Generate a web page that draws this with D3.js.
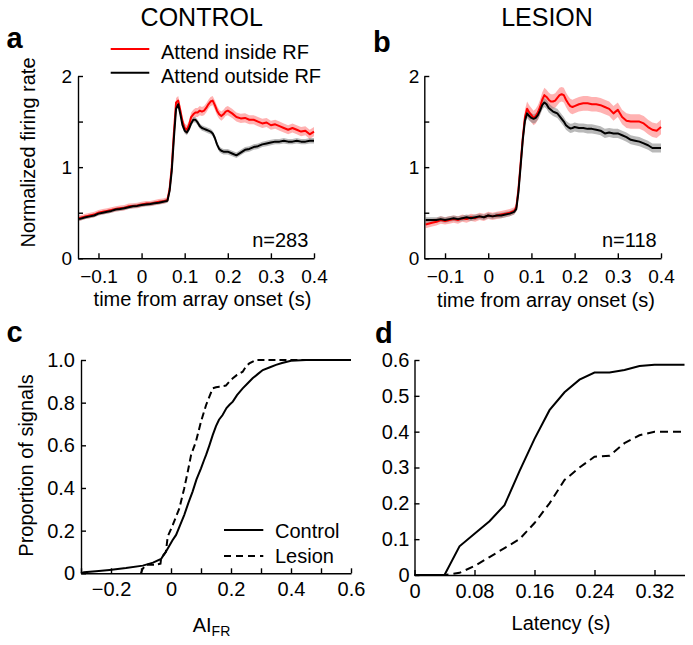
<!DOCTYPE html>
<html><head><meta charset="utf-8">
<script src="https://cdn.jsdelivr.net/npm/d3@7"></script>
<style>body{margin:0;background:#fff}svg{display:block;font-family:"Liberation Sans",Arial,Helvetica,sans-serif}</style>
</head><body><svg id="c" width="693" height="645"></svg>
<script>
// ---------- DATA ----------
const timeBins = [-0.145,-0.13,-0.12,-0.11,-0.10,-0.09,-0.08,-0.07,-0.06,-0.05,-0.04,-0.03,-0.02,-0.01,0,0.01,0.02,0.03,0.04,0.05,0.06,
 0.065,0.07,0.075,0.08,0.085,0.09,0.095,0.10,0.105,0.11,0.115,0.12,0.125,0.13,0.135,0.14,0.145,0.15,0.155,0.16,0.165,0.17,0.175,0.18,0.185,0.19,0.195,
 0.20,0.21,0.22,0.23,0.24,0.25,0.26,0.27,0.28,0.29,0.30,0.31,0.32,0.33,0.34,0.35,0.36,0.37,0.38,0.39,0.40];

const insideA = [0.44,0.46,0.47,0.48,0.50,0.51,0.52,0.53,0.54,0.55,0.555,0.57,0.575,0.58,0.59,0.60,0.60,0.61,0.62,0.625,0.64,
 0.76,1.00,1.38,1.71,1.73,1.62,1.50,1.43,1.41,1.46,1.55,1.58,1.60,1.60,1.62,1.61,1.62,1.65,1.69,1.72,1.73,1.68,1.62,1.58,1.56,1.58,1.61,
 1.62,1.59,1.55,1.535,1.54,1.52,1.52,1.50,1.48,1.49,1.46,1.47,1.45,1.43,1.41,1.43,1.41,1.39,1.40,1.36,1.39];
const outsideA = [0.43,0.45,0.46,0.47,0.49,0.50,0.51,0.52,0.535,0.54,0.55,0.56,0.57,0.575,0.585,0.59,0.595,0.605,0.61,0.62,0.63,
 0.74,0.96,1.32,1.64,1.69,1.58,1.46,1.40,1.38,1.42,1.48,1.52,1.52,1.49,1.45,1.43,1.42,1.41,1.40,1.39,1.37,1.32,1.25,1.20,1.18,1.17,1.17,
 1.17,1.15,1.13,1.16,1.19,1.20,1.22,1.23,1.25,1.26,1.27,1.28,1.28,1.29,1.28,1.28,1.29,1.28,1.28,1.29,1.29];
const insideB = [0.37,0.39,0.40,0.42,0.41,0.42,0.43,0.42,0.44,0.43,0.45,0.44,0.46,0.45,0.47,0.46,0.47,0.48,0.49,0.50,0.52,
 0.56,0.76,1.04,1.32,1.55,1.64,1.60,1.57,1.54,1.56,1.60,1.66,1.74,1.79,1.77,1.74,1.72,1.72,1.73,1.76,1.79,1.80,1.79,1.74,1.70,1.67,1.66,
 1.67,1.69,1.70,1.70,1.69,1.69,1.68,1.66,1.64,1.59,1.63,1.55,1.51,1.50,1.50,1.50,1.48,1.44,1.41,1.40,1.44];
const outsideB = [0.42,0.42,0.42,0.43,0.42,0.43,0.44,0.43,0.44,0.45,0.44,0.45,0.46,0.45,0.47,0.46,0.47,0.47,0.48,0.49,0.51,
 0.54,0.73,1.01,1.30,1.51,1.59,1.56,1.54,1.53,1.54,1.57,1.62,1.68,1.71,1.69,1.65,1.63,1.61,1.60,1.59,1.56,1.53,1.50,1.46,1.44,1.425,1.43,
 1.44,1.43,1.43,1.42,1.42,1.41,1.40,1.37,1.38,1.37,1.37,1.35,1.33,1.30,1.29,1.28,1.26,1.24,1.21,1.21,1.21];
// SEM half-widths [before response, after response]
const semInsideA = [0.03, 0.05], semOutsideA = [0.02, 0.03];
const semInsideB = [0.04, 0.08], semOutsideB = [0.03, 0.05];
const nA = "n=283", nB = "n=118";

// panel c: cumulative distributions of AI_FR
const ctrlAI = [-0.30,-0.29,-0.25,-0.205,-0.15,-0.094,-0.06,-0.033,-0.025,-0.017,-0.005,0.005,0.017,0.03,0.044,0.058,0.072,0.085,0.10,0.11,0.117,0.128,0.139,0.15,0.16,0.172,0.185,0.195,0.206,0.22,0.239,0.255,0.272,0.29,0.306,0.33,0.35,0.37,0.40,0.45,0.60];
const ctrlProp = [0,0.005,0.01,0.016,0.025,0.036,0.05,0.067,0.085,0.101,0.13,0.155,0.18,0.225,0.273,0.33,0.383,0.44,0.492,0.53,0.555,0.60,0.648,0.69,0.72,0.742,0.775,0.79,0.805,0.835,0.867,0.89,0.914,0.935,0.953,0.966,0.977,0.986,0.996,1.0,1.0];
const lesAI = [-0.10,-0.095,-0.083,-0.05,-0.035,-0.033,-0.025,-0.017,-0.011,0.006,0.028,0.044,0.056,0.067,0.083,0.10,0.117,0.128,0.139,0.15,0.161,0.183,0.195,0.206,0.22,0.239,0.25,0.261,0.283,0.30,0.60];
const lesProp = [0,0.02,0.04,0.04,0.045,0.07,0.085,0.10,0.172,0.227,0.305,0.398,0.477,0.555,0.617,0.711,0.789,0.828,0.867,0.872,0.875,0.88,0.90,0.914,0.93,0.945,0.97,0.984,1.0,1.0,1.0];

// panel d: cumulative proportion vs latency
const latency = [0,0.02,0.04,0.06,0.08,0.10,0.12,0.14,0.16,0.18,0.20,0.22,0.24,0.26,0.28,0.30,0.32,0.34,0.36];
const ctrlLat = [0,0,0,0.08,0.115,0.15,0.195,0.29,0.38,0.46,0.51,0.545,0.565,0.565,0.572,0.583,0.587,0.587,0.587];
const lesLat  = [0,0,0,0.006,0.025,0.05,0.075,0.10,0.145,0.20,0.265,0.30,0.33,0.333,0.368,0.39,0.40,0.40,0.40];

// ticks
const xTicksAB = [-0.1,0,0.1,0.2,0.3,0.4], xLabelsAB = ["\u22120.1","0","0.1","0.2","0.3","0.4"];
const yTicksAB = [0,0.5,1,1.5,2], yLabelsAB = ["0","","1","","2"];
const xTicksC = [-0.3,-0.2,-0.1,0,0.1,0.2,0.3,0.4,0.5,0.6], xLabelsC = ["","\u22120.2","","0","","0.2","","0.4","","0.6"];
const yTicksC = [0,0.2,0.4,0.6,0.8,1.0], yLabelsC = ["0","0.2","0.4","0.6","0.8","1.0"];
const xTicksD = [0,0.08,0.16,0.24,0.32], xLabelsD = ["0","0.08","0.16","0.24","0.32"];
const yTicksD = [0,0.1,0.2,0.3,0.4,0.5,0.6], yLabelsD = ["0","0.1","0.2","0.3","0.4","0.5","0.6"];

// ---------- DRAW ----------
const svg = d3.select("#c");
svg.append("rect").attr("width",693).attr("height",645).attr("fill","#fff");

function axes(xs, ys, xt, xl, yt, yl, fs, xpad, ypad){
  const g = svg.append("g");
  const y0 = ys.range()[0], x0 = xs.range()[0];
  const ax = d3.axisBottom(xs).tickValues(xt).tickSize(-5).tickSizeOuter(0).tickPadding(xpad)
      .tickFormat((d,i)=>xl[i]);
  const ay = d3.axisLeft(ys).tickValues(yt).tickSize(-5).tickSizeOuter(0).tickPadding(ypad)
      .tickFormat((d,i)=>yl[i]);
  const gx = g.append("g").attr("transform",`translate(0,${y0})`).call(ax);
  const gy = g.append("g").attr("transform",`translate(${x0},0)`).call(ay);
  [gx,gy].forEach(a=>{
    a.selectAll("path,line").attr("stroke","#000").attr("stroke-width",1.4);
    a.selectAll("text").attr("fill","#000").attr("font-size",fs)
      .attr("font-family",'"Liberation Sans",Arial,sans-serif');
  });
}

function psth(xs, ys, series){
  const post = 0.07;
  series.forEach(s=>{
    const area = d3.area().x((d,i)=>xs(timeBins[i]))
      .y0((d,i)=>ys(d - (timeBins[i]<post? s.sem[0]:s.sem[1])))
      .y1((d,i)=>ys(d + (timeBins[i]<post? s.sem[0]:s.sem[1])));
    svg.append("path").datum(s.v).attr("d",area).attr("fill",s.band).attr("opacity",s.bandOp);
  });
  series.forEach(s=>{
    const line = d3.line().x((d,i)=>xs(timeBins[i])).y(d=>ys(d));
    svg.append("path").datum(s.v).attr("d",line).attr("fill","none")
      .attr("stroke",s.color).attr("stroke-width",2).attr("stroke-linejoin","round");
  });
}

function text(x,y,str,opt={}){
  const t = svg.append("text").attr("x",x).attr("y",y).text(str)
    .attr("font-size",opt.fs||20).attr("fill","#000")
    .attr("text-anchor",opt.anchor||"start");
  if(opt.bold) t.attr("font-weight","bold");
  if(opt.rot) t.attr("transform",`rotate(-90,${x},${y})`);
  return t;
}

// Panel a
const xA = d3.scaleLinear().domain([-0.1475,0.4]).range([78,314]);
const yA = d3.scaleLinear().domain([0,2]).range([258.3,76]);
psth(xA,yA,[
  {v:insideA, sem:semInsideA, color:"#ff0000", band:"#ff0000", bandOp:0.3},
  {v:outsideA, sem:semOutsideA, color:"#000", band:"#808080", bandOp:0.55}
]);
axes(xA,yA,xTicksAB,xLabelsAB,yTicksAB,yLabelsAB,19,11,6);

// Panel b
const xB = d3.scaleLinear().domain([-0.148,0.4]).range([424.3,661]);
const yB = d3.scaleLinear().domain([0,2]).range([258.3,76]);
psth(xB,yB,[
  {v:insideB, sem:semInsideB, color:"#ff0000", band:"#ff0000", bandOp:0.3},
  {v:outsideB, sem:semOutsideB, color:"#000", band:"#808080", bandOp:0.55}
]);
axes(xB,yB,xTicksAB,xLabelsAB,yTicksAB,yLabelsAB,19,11,5);

// Panel c
const xC = d3.scaleLinear().domain([-0.3,0.6]).range([81,351]);
const yC = d3.scaleLinear().domain([0,1]).range([573.3,360]);
axes(xC,yC,xTicksC,xLabelsC,yTicksC,yLabelsC,20,8.5,6);
svg.append("path").datum(ctrlAI).attr("fill","none").attr("stroke","#000").attr("stroke-width",2)
  .attr("d",d3.line().x(d=>xC(d)).y((d,i)=>yC(ctrlProp[i])));
svg.append("path").datum(lesAI).attr("fill","none").attr("stroke","#000").attr("stroke-width",2)
  .attr("stroke-dasharray","7,4")
  .attr("d",d3.line().x(d=>xC(d)).y((d,i)=>yC(lesProp[i])));

// Panel d
const xD = d3.scaleLinear().domain([0,0.36]).range([414.5,684.5]);
const yD = d3.scaleLinear().domain([0,0.6]).range([575,360]);
axes(xD,yD,xTicksD,xLabelsD,yTicksD,yLabelsD,20,9,5);
svg.append("path").datum(latency).attr("fill","none").attr("stroke","#000").attr("stroke-width",2)
  .attr("d",d3.line().x(d=>xD(d)).y((d,i)=>yD(ctrlLat[i])));
svg.append("path").datum(latency).attr("fill","none").attr("stroke","#000").attr("stroke-width",2)
  .attr("stroke-dasharray","8,5")
  .attr("d",d3.line().x(d=>xD(d)).y((d,i)=>yD(lesLat[i])));

// Titles / labels
text(201.7,26,"CONTROL",{fs:25,anchor:"middle"});
text(547,26,"LESION",{fs:25,anchor:"middle"});
text(6.5,48.3,"a",{fs:29,bold:true});
text(373,51.7,"b",{fs:29,bold:true});
text(6.5,341.7,"c",{fs:29,bold:true});
text(375,343.3,"d",{fs:29,bold:true});

// legend a
svg.append("line").attr("x1",110.7).attr("x2",149.3).attr("y1",49).attr("y2",49).attr("stroke","#ff0000").attr("stroke-width",2);
svg.append("line").attr("x1",110.7).attr("x2",149.3).attr("y1",72.7).attr("y2",72.7).attr("stroke","#000").attr("stroke-width",2);
text(161,59.3,"Attend inside RF");
text(161,83.3,"Attend outside RF");

text(308.3,247.3,nA,{anchor:"end"});
text(656.7,246.7,nB,{anchor:"end"});

text(202.5,306,"time from array onset (s)",{anchor:"middle"});
text(546,306.5,"time from array onset (s)",{anchor:"middle"});
text(35,152.5,"Normalized firing rate",{anchor:"middle",rot:true});
text(33.3,465.5,"Proportion of signals",{anchor:"middle",rot:true});

// legend c
svg.append("line").attr("x1",224).attr("x2",263.3).attr("y1",530).attr("y2",530).attr("stroke","#000").attr("stroke-width",2);
svg.append("line").attr("x1",224).attr("x2",263.3).attr("y1",556).attr("y2",556).attr("stroke","#000").attr("stroke-width",2).attr("stroke-dasharray","7,5");
text(275,538.3,"Control");
text(275,563.3,"Lesion");

// x label c: AI with subscript FR
const ai = svg.append("text").attr("x",211.5).attr("y",631.7).attr("text-anchor","middle").attr("font-size",20).attr("fill","#000");
ai.append("tspan").text("AI");
ai.append("tspan").attr("font-size",14).attr("dy",4).text("FR");

text(561,630,"Latency (s)",{anchor:"middle"});
</script></body></html>
